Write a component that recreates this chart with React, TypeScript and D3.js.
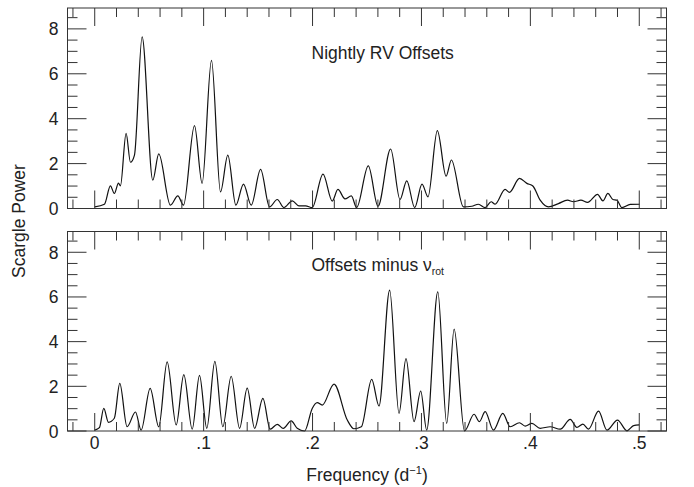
import React from "react";
import * as d3 from "d3";

const topFreq = [0, 0.0089, 0.0144, 0.018, 0.0218, 0.0236, 0.0288, 0.0328, 0.0365, 0.0435, 0.0533, 0.0588, 0.0695, 0.0763, 0.0815, 0.0916, 0.0986, 0.1072, 0.1155, 0.1222, 0.1296, 0.1366, 0.1437, 0.1523, 0.1605, 0.1676, 0.1737, 0.1814, 0.1875, 0.1936, 0.1997, 0.2096, 0.2181, 0.2233, 0.2298, 0.2356, 0.2405, 0.2512, 0.2601, 0.2717, 0.2803, 0.2865, 0.2938, 0.3005, 0.306, 0.3146, 0.3226, 0.3275, 0.3385, 0.3462, 0.3523, 0.3585, 0.364, 0.3676, 0.3768, 0.3808, 0.39, 0.3968, 0.4023, 0.409, 0.4166, 0.4258, 0.4341, 0.4396, 0.4464, 0.4525, 0.4617, 0.4666, 0.4712, 0.4758, 0.4795, 0.4841, 0.4917, 0.5003];
const topPower = [0.07, 0.19, 1.01, 0.67, 1.13, 1.01, 3.35, 2.06, 2.38, 7.64, 1.26, 2.43, 0.15, 0.56, 0.15, 3.69, 1.12, 6.6, 0.74, 2.38, 0.15, 1.09, 0.15, 1.74, 0.07, 0.4, 0.04, 0.34, 0.12, 0.12, 0.04, 1.53, 0.33, 0.85, 0.43, 0.56, 0.04, 1.9, 0.1, 2.65, 0.4, 1.23, 0.04, 1.09, 0.52, 3.47, 1.44, 2.16, 0.07, 0.1, 0.19, 0.04, 0.3, 0.19, 0.85, 0.72, 1.34, 1.12, 1.0, 0.37, 0.07, 0.22, 0.37, 0.3, 0.37, 0.27, 0.63, 0.34, 0.67, 0.4, 0.37, 0.04, 0.18, 0.19];

const bottomFreq = [0, 0.0043, 0.0083, 0.0126, 0.018, 0.023, 0.0297, 0.0374, 0.0426, 0.0509, 0.0588, 0.0665, 0.0748, 0.0818, 0.0895, 0.0962, 0.1029, 0.1103, 0.1176, 0.1253, 0.133, 0.14, 0.1468, 0.1544, 0.1611, 0.1676, 0.1731, 0.1804, 0.1859, 0.1927, 0.1997, 0.2043, 0.2089, 0.2197, 0.2319, 0.238, 0.2448, 0.2543, 0.261, 0.2708, 0.2794, 0.2858, 0.2932, 0.2993, 0.3048, 0.315, 0.3232, 0.33, 0.3395, 0.3483, 0.3532, 0.3585, 0.3661, 0.3747, 0.3814, 0.39, 0.3952, 0.4014, 0.409, 0.4182, 0.4274, 0.4366, 0.4427, 0.4482, 0.4534, 0.4626, 0.4703, 0.48, 0.4887, 0.4948, 0.5];
const bottomPower = [0.04, 0.15, 1.01, 0.39, 0.57, 2.13, 0.19, 0.85, 0.04, 1.91, 0.19, 3.09, 0.27, 2.52, 0.08, 2.49, 0.12, 3.12, 0.19, 2.45, 0.12, 1.92, 0.12, 1.46, 0.08, 0.3, 0.12, 0.45, 0.12, 0.0, 1.01, 1.27, 1.16, 2.1, 0.49, 0.1, 0.19, 2.31, 1.12, 6.31, 0.79, 3.24, 0.42, 1.79, 0.04, 6.23, 0.34, 4.56, 0.0, 0.75, 0.42, 0.87, 0.04, 0.79, 0.19, 0.37, 0.22, 0.34, 0.12, 0.19, 0.08, 0.52, 0.16, 0.31, 0.08, 0.89, 0.04, 0.49, 0.01, 0.24, 0.27];

const xMajorTicks = [0, 0.1, 0.2, 0.3, 0.4, 0.5];
const xTickLabels = ["0", ".1", ".2", ".3", ".4", ".5"];
const yMajorTicks = [0, 2, 4, 6, 8];
const yTickLabels = ["0", "2", "4", "6", "8"];

const W = 694;
const H = 487;
const LEFT = 67.5;
const RIGHT = 666.5;
const FONT = "'Liberation Sans', Arial, Helvetica, sans-serif";
const AXIS = "#333";
const TEXT = "#222";

const x = d3.scaleLinear().domain([-0.025, 0.525]).range([LEFT, RIGHT]);
const xMinor = d3.range(-1, 27).map((i) => +(i * 0.02).toFixed(2));
const yMinor = d3.range(0, 18).map((i) => i * 0.5);

type PanelProps = {
  freq: number[];
  power: number[];
  top: number;
  bottom: number;
  showXLabels: boolean;
};

function Panel({ freq, power, top, bottom, showXLabels }: PanelProps) {
  const y = d3.scaleLinear().domain([0, 8.93]).range([bottom, top]);
  const pts = freq.map((f, i) => [f, power[i]] as [number, number]);
  const line = d3
    .line<[number, number]>()
    .x((d) => x(d[0]))
    .y((d) => y(d[1]))
    .curve(d3.curveMonotoneX);
  const xMaj = new Set(xMajorTicks.map((v) => v.toFixed(2)));
  const yMaj = new Set(yMajorTicks.map((v) => v.toFixed(1)));
  return (
    <g>
      <path d={line(pts) || ""} fill="none" stroke="#111" strokeWidth={1.2} strokeLinejoin="round" />
      <rect x={LEFT} y={top} width={RIGHT - LEFT} height={bottom - top} fill="none" stroke={AXIS} strokeWidth={1} />
      {xMinor.map((v) => {
        const len = xMaj.has(v.toFixed(2)) ? 18 : 9;
        const px = x(v);
        return (
          <g key={"x" + v}>
            <line x1={px} x2={px} y1={top} y2={top + len} stroke={AXIS} strokeWidth={1} />
            <line x1={px} x2={px} y1={bottom} y2={bottom - len} stroke={AXIS} strokeWidth={1} />
          </g>
        );
      })}
      {yMinor.map((v) => {
        const len = yMaj.has(v.toFixed(1)) ? 19 : 10;
        const py = y(v);
        return (
          <g key={"y" + v}>
            <line x1={LEFT} x2={LEFT + len} y1={py} y2={py} stroke={AXIS} strokeWidth={1} />
            <line x1={RIGHT} x2={RIGHT - len} y1={py} y2={py} stroke={AXIS} strokeWidth={1} />
          </g>
        );
      })}
      {yMajorTicks.map((v, i) => (
        <text key={"yl" + v} x={58.5} y={y(v) + 6.5} textAnchor="end" fontSize={17.5} fontFamily={FONT} fill={TEXT}>
          {yTickLabels[i]}
        </text>
      ))}
      {showXLabels &&
        xMajorTicks.map((v, i) => (
          <text key={"xl" + v} x={x(v)} y={449} textAnchor="middle" fontSize={17.5} fontFamily={FONT} fill={TEXT}>
            {xTickLabels[i]}
          </text>
        ))}
    </g>
  );
}

export default function App() {
  return (
    <svg width={W} height={H} style={{ position: "absolute", left: 0, top: 0, background: "#fff" }}>
      <rect x={0} y={0} width={W} height={H} fill="#fff" />
      <Panel freq={topFreq} power={topPower} top={8} bottom={208.5} showXLabels={false} />
      <Panel freq={bottomFreq} power={bottomPower} top={231.5} bottom={431} showXLabels={true} />
      <text x={311.5} y={58.5} fontSize={17.5} fontFamily={FONT} fill={TEXT}>
        Nightly RV Offsets
      </text>
      <text x={311.5} y={271} fontSize={17.5} fontFamily={FONT} fill={TEXT}>
        Offsets minus ν
        <tspan fontSize={10.5} dy={4}>rot</tspan>
      </text>
      <text x={367} y={481} textAnchor="middle" fontSize={17.5} fontFamily={FONT} fill={TEXT}>
        Frequency (d
        <tspan fontSize={11} dy={-7}>−1</tspan>
        <tspan dy={7}>)</tspan>
      </text>
      <text transform="translate(25,221) rotate(-90)" textAnchor="middle" fontSize={17.5} fontFamily={FONT} fill={TEXT}>
        Scargle Power
      </text>
    </svg>
  );
}
